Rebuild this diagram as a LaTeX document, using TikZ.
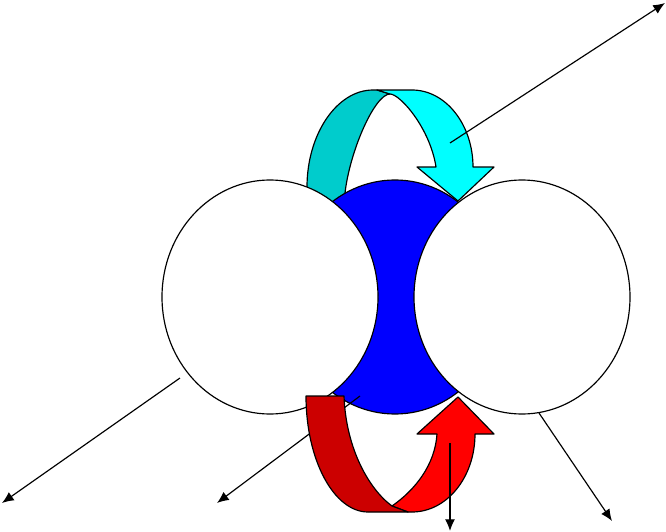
\documentclass[tikz,border=0pt]{standalone}
\usepackage{tikz}
\usetikzlibrary{shapes.geometric,arrows.meta}

\definecolor{tealback}{RGB}{0,204,204}
\definecolor{cyanfront}{RGB}{0,255,255}
\definecolor{redback}{RGB}{204,0,0}
\definecolor{redfront}{RGB}{255,0,0}
\definecolor{ballblue}{RGB}{0,0,255}

\begin{document}
\begin{tikzpicture}[x=0.03cm, y=-0.03cm, line width=1pt,
		>={Latex[length=10pt,width=8.5pt]},
		ball/.style={ellipse, draw, inner sep=0pt, minimum width=6.48cm, minimum height=7.02cm},
		band/.style={draw, line join=round}]
		\useasboundingbox (0,0) rectangle (666,532);

		% upper curved arrow (behind the balls)
		\draw[band, fill=tealback] (307,215) -- (307,187) .. controls (307,134) and (337,90) .. (373,90)
			-- (377,90) -- (390,94) .. controls (375,94) and (350,150) .. (345,193) -- (345,215) -- cycle;
		\draw[band, fill=cyanfront] (377,90) -- (412,90) .. controls (446,90) and (473,125) .. (473,167)
			-- (494,167) -- (458,201) -- (417,167) -- (436,167) .. controls (430,128) and (400,94) .. (390,94) -- cycle;

		% balls
		\node[ball, fill=ballblue] (mid) at (395,297) {};
		\node[ball, fill=white] (lft) at (270,297) {};
		\node[ball, fill=white] (rgt) at (522,297) {};

		\coordinate (s1) at (450,143);
		\coordinate (t1) at (665,3);
		\coordinate (s2) at (180,378);
		\coordinate (t2) at (2,503);
		\coordinate (s3) at (360,396);
		\coordinate (t3) at (217,503);
		\coordinate (s4) at (450,443);
		\coordinate (t4) at (450,531);
		\coordinate (s5) at (539,413);
		\coordinate (t5) at (612,521);

		\draw[->] (s1) -- (t1);
		\draw[->] (s2) -- (t2);
		\draw[->] (s3) -- (t3);
		\draw[->] (s5) -- (t5);

		% lower curved arrow (over the balls)
		\draw[band, fill=redfront] (392,506) .. controls (415,490) and (435,465) .. (437,434)
			-- (417,434) -- (458,397) -- (494,434) -- (475,434) .. controls (475,477) and (447,512) .. (412,512)
			-- (408,512) -- cycle;
		\draw[band, fill=redback] (306,396) -- (344,396) .. controls (346,450) and (370,490) .. (392,506)
			-- (408,512) -- (368,512) .. controls (334,512) and (306,460) .. cycle;

		\draw[->] (s4) -- (t4);
\end{tikzpicture}
\end{document}
